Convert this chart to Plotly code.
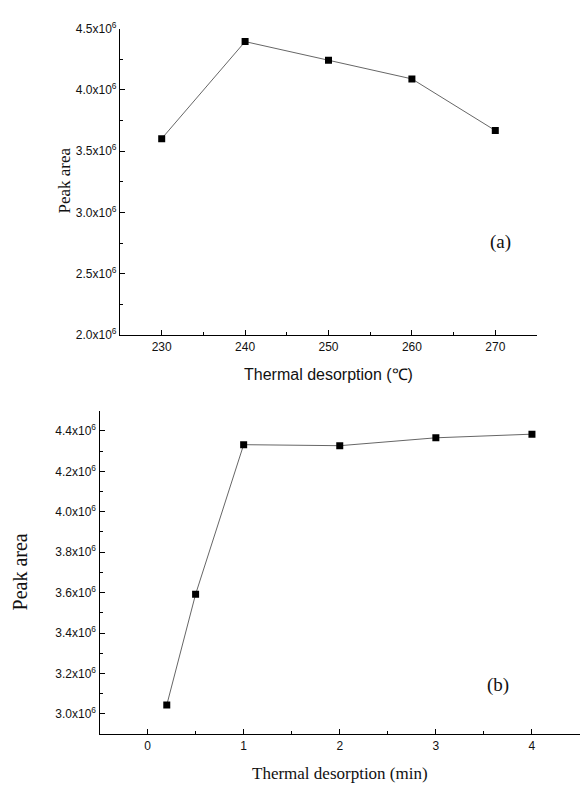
import plotly.graph_objects as go

W, H = 581, 793

# Panel (a)
temp_c = [230, 240, 250, 260, 270]
area_a = [3.603e6, 4.394e6, 4.242e6, 4.090e6, 3.669e6]
ya_vals = [2.0e6, 2.5e6, 3.0e6, 3.5e6, 4.0e6, 4.5e6]
ya_text = ["2.0x10<sup>6</sup>", "2.5x10<sup>6</sup>", "3.0x10<sup>6</sup>",
           "3.5x10<sup>6</sup>", "4.0x10<sup>6</sup>", "4.5x10<sup>6</sup>"]
xa_vals = [230, 240, 250, 260, 270]

# Panel (b)
time_min = [0.2, 0.5, 1, 2, 3, 4]
area_b = [3.044e6, 3.592e6, 4.332e6, 4.327e6, 4.366e6, 4.384e6]
yb_vals = [3.0e6, 3.2e6, 3.4e6, 3.6e6, 3.8e6, 4.0e6, 4.2e6, 4.4e6]
yb_text = ["3.0x10<sup>6</sup>", "3.2x10<sup>6</sup>", "3.4x10<sup>6</sup>",
           "3.6x10<sup>6</sup>", "3.8x10<sup>6</sup>", "4.0x10<sup>6</sup>",
           "4.2x10<sup>6</sup>", "4.4x10<sup>6</sup>"]
xb_vals = [0, 1, 2, 3, 4]


def px(x):
    return x / W


def py(y):
    return 1 - y / H


sans = "Arial"
serif = "Times New Roman"
tickfont = dict(family=sans, size=12, color="#111")

fig = go.Figure()
line_style = dict(color="#666", width=1)
marker_style = dict(symbol="square", size=7, color="#000")

fig.add_trace(go.Scatter(x=temp_c, y=area_a, mode="lines+markers",
                         line=line_style, marker=marker_style,
                         xaxis="x", yaxis="y", showlegend=False))
fig.add_trace(go.Scatter(x=time_min, y=area_b, mode="lines+markers",
                         line=line_style, marker=marker_style,
                         xaxis="x2", yaxis="y2", showlegend=False))

axis_common = dict(showline=True, linecolor="#000", linewidth=1.2,
                   ticks="inside", ticklen=5, tickwidth=1, tickcolor="#000",
                   showgrid=False, zeroline=False, tickfont=tickfont,
                   tickmode="array")

fig.update_layout(
    width=W, height=H,
    margin=dict(l=0, r=0, t=0, b=0),
    paper_bgcolor="white", plot_bgcolor="white",
    xaxis=dict(axis_common, domain=[px(120), px(537)], range=[225, 275],
               tickvals=xa_vals, ticktext=[str(v) for v in xa_vals],
               anchor="y",
               minor=dict(ticks="inside", ticklen=3, tick0=225, dtick=5,
                          tickcolor="#000", showgrid=False)),
    yaxis=dict(axis_common, domain=[py(333), py(20)], range=[2.0e6, 4.5e6],
               tickvals=ya_vals, ticktext=ya_text, anchor="x",
               minor=dict(ticks="inside", ticklen=3, tick0=2.0e6, dtick=0.25e6,
                          tickcolor="#000", showgrid=False)),
    xaxis2=dict(axis_common, domain=[px(99.5), px(580)], range=[-0.5, 4.5],
                tickvals=xb_vals, ticktext=[str(v) for v in xb_vals],
                anchor="y2",
                minor=dict(ticks="inside", ticklen=3, tick0=-0.5, dtick=0.5,
                           tickcolor="#000", showgrid=False)),
    yaxis2=dict(axis_common, domain=[py(740), py(410)], range=[2.9e6, 4.5e6],
                tickvals=yb_vals, ticktext=yb_text, anchor="x2",
                minor=dict(ticks="inside", ticklen=3, tick0=2.9e6, dtick=0.1e6,
                           tickcolor="#000", showgrid=False)),
)

annotations = [
    dict(text="Peak area", x=px(64), y=py(175), textangle=-90,
         font=dict(family=serif, size=17, color="#111")),
    dict(text="Thermal desorption (℃)", x=px(328), y=py(373),
         font=dict(family=sans, size=16, color="#111")),
    dict(text="(a)", x=px(500), y=py(238),
         font=dict(family=serif, size=19, color="#111")),
    dict(text="Peak area", x=px(20), y=py(574), textangle=-90,
         font=dict(family=serif, size=20, color="#111")),
    dict(text="Thermal desorption (min)", x=px(340), y=py(780),
         font=dict(family=serif, size=17, color="#111")),
    dict(text="(b)", x=px(498), y=py(690),
         font=dict(family=serif, size=19, color="#111")),
]
for a in annotations:
    a.update(xref="paper", yref="paper", showarrow=False,
             xanchor="center", yanchor="middle")
fig.update_layout(annotations=annotations)

fig.write_html("out.html")
